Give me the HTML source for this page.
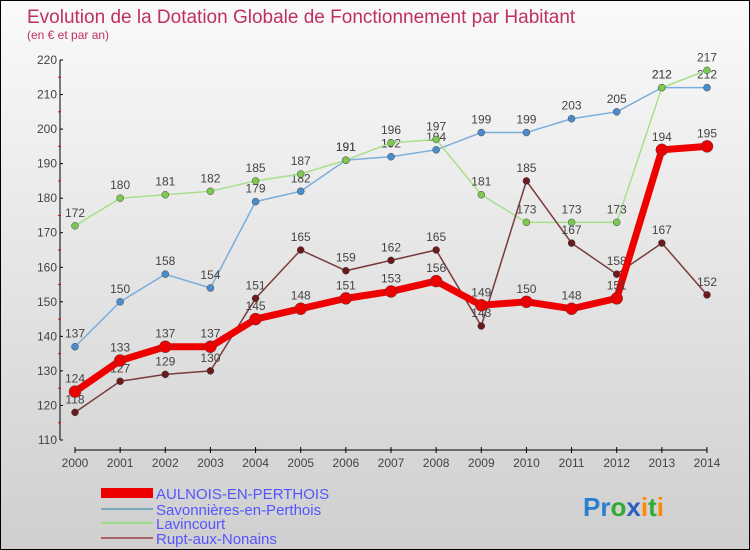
<!DOCTYPE html>
<html><head><meta charset="utf-8"><style>
body{margin:0}
#wrap{width:748px;height:548px;border:1px solid #000;background:linear-gradient(#fafafa,#cfcfcf);position:relative;overflow:hidden;font-family:"Liberation Sans",sans-serif}
</style></head><body>
<div id="wrap">
<svg id="chart" width="748" height="548">
<text x="26" y="22" font-size="19" fill="#c0305e">Evolution de la Dotation Globale de Fonctionnement par Habitant</text>
<text x="26" y="38" font-size="12" fill="#c0305e">(en € et par an)</text>
<g id="axes"></g><g id="series"></g>
<g>
<rect x="100" y="487" width="52" height="10" fill="#e00"/>
<text x="155" y="498" font-size="15" fill="#55f">AULNOIS-EN-PERTHOIS</text>
<rect x="100" y="507" width="52" height="2" fill="#7ab"/>
<text x="155" y="514" font-size="15" fill="#55f">Savonnières-en-Perthois</text>
<rect x="100" y="521" width="52" height="2" fill="#9d8"/>
<text x="155" y="528" font-size="15" fill="#55f">Lavincourt</text>
<rect x="100" y="536" width="52" height="2" fill="#a66"/>
<text x="155" y="543" font-size="15" fill="#55f">Rupt-aux-Nonains</text>
</g>
<text x="582" y="515" font-size="26" font-weight="bold"><tspan fill="#2a7fd0">Pr</tspan><tspan fill="#3a3">o</tspan><tspan fill="#2a60c0">x</tspan><tspan fill="#f80">i</tspan><tspan fill="#3a3">t</tspan><tspan fill="#f80">i</tspan></text>
</svg>
</div>
<script>
const years=[2000,2001,2002,2003,2004,2005,2006,2007,2008,2009,2010,2011,2012,2013,2014];
const yTicks=[110,120,130,140,150,160,170,180,190,200,210,220];
const aulnois=[124,133,137,137,145,148,151,153,156,149,150,148,151,194,195];
const savonnieres=[137,150,158,154,179,182,191,192,194,199,199,203,205,212,212];
const lavincourt=[172,180,181,182,185,187,191,196,197,181,173,173,173,212,217];
const rupt=[118,127,129,130,151,165,159,162,165,143,185,167,158,167,152];
const NS="http://www.w3.org/2000/svg";
const xS=i=>74+i*(632/(years.length-1));
const yS=v=>439-(v-110)*(380/110);
function mk(t,a,p){const e=document.createElementNS(NS,t);for(const k in a)e.setAttribute(k,a[k]);p.appendChild(e);return e;}
const ax=document.getElementById('axes');
let l=mk('line',{x1:59,y1:yS(220),x2:59,y2:yS(110),stroke:'#000'},ax);


l=mk('line',{x1:74,y1:449,x2:706,y2:449,stroke:'#000'},ax);


yTicks.forEach(v=>{
 mk('line',{x1:59,y1:yS(v),x2:62,y2:yS(v),stroke:'#000'},ax);
 if(v<220)mk('line',{x1:57,y1:yS(v+5),x2:60,y2:yS(v+5),stroke:'#e00'},ax);
 const t=mk('text',{x:56,y:yS(v)+4,'font-size':12,fill:'#444','text-anchor':'end'},ax);t.textContent=v;
 
 
});
years.forEach((y,i)=>{
 mk('line',{x1:xS(i),y1:446,x2:xS(i),y2:452,stroke:'#000'},ax);
 const t=mk('text',{x:xS(i),y:466,'font-size':12,fill:'#444','text-anchor':'middle'},ax);t.textContent=y;
 
 
});
const sg=document.getElementById('series');
function draw(data,color,w,r,dot,name){
 const g=mk('g',{},sg);
 
 
 mk('polyline',{points:data.map((v,i)=>xS(i)+','+yS(v)).join(' '),fill:'none',stroke:color,'stroke-width':w,'stroke-linejoin':'round'},g);
 data.forEach((v,i)=>{
  const c=mk('circle',{cx:xS(i),cy:yS(v),r:r,fill:dot,stroke:'#444','stroke-width':0.5},g);
  
  
  const t=mk('text',{x:xS(i),y:yS(v)-9,'font-size':12,fill:'#444','text-anchor':'middle'},g);t.textContent=v;
  
  
 });
}
draw(savonnieres,'#7aaedc',1.5,3.5,'#4a8ccc','series-savonnieres');
draw(lavincourt,'#a8e08a',1.5,3.5,'#7cc850','series-lavincourt');
draw(rupt,'#7a3a3a',1.5,3.5,'#6a1a1a','series-rupt');
draw(aulnois,'#ee0000',7,6,'#ee0000','series-aulnois');
</script>
</body></html>
